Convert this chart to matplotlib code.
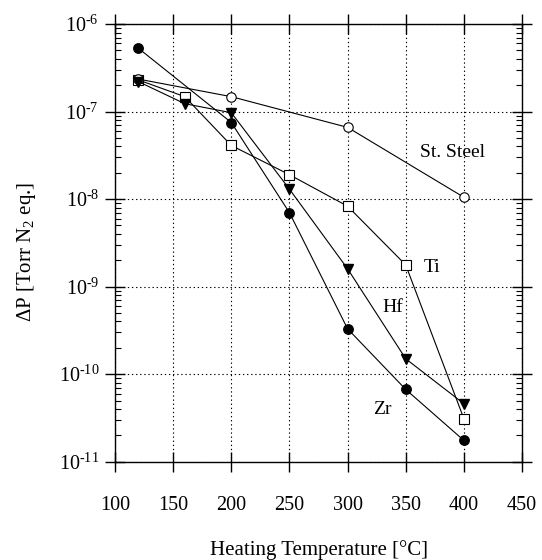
import numpy as np
import matplotlib
matplotlib.use("Agg")
import matplotlib.pyplot as plt
from matplotlib.ticker import LogLocator, NullFormatter, FixedLocator, FuncFormatter

plt.rcParams['font.family'] = ['Liberation Serif', 'DejaVu Serif']
plt.rcParams['mathtext.fontset'] = 'custom'
plt.rcParams['mathtext.rm'] = 'Liberation Serif'
plt.rcParams['mathtext.it'] = 'Liberation Serif:italic'

# heating temperature [C] and pressure rise [Torr N2 eq.]
temp_steel = [120, 200, 300, 400]
dp_steel   = [2.35e-7, 1.48e-7, 6.6e-8, 1.05e-8]

temp_ti = [120, 160, 200, 250, 300, 350, 400]
dp_ti   = [2.3e-7, 1.48e-7, 4.1e-8, 1.9e-8, 8.3e-9, 1.77e-9, 3.1e-11]

temp_hf = [120, 160, 200, 250, 300, 350, 400]
dp_hf   = [2.2e-7, 1.23e-7, 9.7e-8, 1.3e-8, 1.6e-9, 1.5e-10, 4.6e-11]

temp_zr = [120, 200, 250, 300, 350, 400]
dp_zr   = [5.3e-7, 7.5e-8, 7.0e-9, 3.3e-10, 6.7e-11, 1.75e-11]

label_text = ["St. Steel", "Ti", "Hf", "Zr"]
label_x    = [390, 373, 339, 330]
label_y    = [3.4e-8, 1.66e-9, 5.8e-10, 3.9e-11]

x_ticks = [100, 150, 200, 250, 300, 350, 400, 450]


def decade_label(v, pos):
    n = int(round(np.log10(v)))
    return r"10$^{\text{%d}}$" % n


fig = plt.figure(figsize=(5.42, 5.60), dpi=100)
ax = fig.add_axes([0.2122, 0.1755, 0.7509, 0.7816])

mk = 6.8
lw = 0.8
ax.plot(temp_ti, dp_ti, '-', color='k', lw=lw, marker='s', ms=mk,
        mfc='white', mec='k', mew=0.8, zorder=3)
ax.plot(temp_steel, dp_steel, '-', color='k', lw=lw, marker='o', ms=mk,
        mfc='white', mec='k', mew=0.8, zorder=3)
ax.plot(temp_zr, dp_zr, '-', color='k', lw=lw, marker='o', ms=mk,
        mfc='k', mec='k', zorder=4)
ax.plot(temp_hf, dp_hf, '-', color='k', lw=lw, marker='v', ms=mk + 0.5,
        mfc='k', mec='k', zorder=4)

for t, x, y in zip(label_text, label_x, label_y):
    ax.text(x, y, t, fontsize=14, ha='center', va='center')

ax.set_yscale('log')
ax.set_xlim(100, 450)
ax.set_ylim(1e-11, 1e-6)

ax.xaxis.set_major_locator(FixedLocator(x_ticks))
ax.yaxis.set_major_locator(LogLocator(base=10, numticks=10))
ax.yaxis.set_major_formatter(FuncFormatter(decade_label))
ax.yaxis.set_minor_locator(LogLocator(base=10, subs=np.arange(2, 10), numticks=10))
ax.yaxis.set_minor_formatter(NullFormatter())

ax.grid(True, which='major', linestyle=(0, (1.2, 2.5)), color='k', lw=0.8)

ax.tick_params(axis='both', which='major', direction='inout', length=15,
               width=1.0, top=True, right=True, labelsize=14.5)
ax.tick_params(axis='x', which='major', pad=17)
ax.tick_params(axis='y', which='major', pad=4)
ax.tick_params(axis='y', which='minor', direction='in', length=4,
               width=0.8, left=True, right=True)
ax.tick_params(axis='x', which='minor', bottom=False, top=False)
for s in ax.spines.values():
    s.set_linewidth(1.0)

ax.set_xlabel("Heating Temperature [°C]", fontsize=15)
ax.set_ylabel(r"$\Delta$P [Torr N$_2$ eq.]", fontsize=15)
ax.xaxis.set_label_coords(0.5, -0.178)
ax.yaxis.set_label_coords(-0.19, 0.48)

fig.savefig("out.png", dpi=100)
